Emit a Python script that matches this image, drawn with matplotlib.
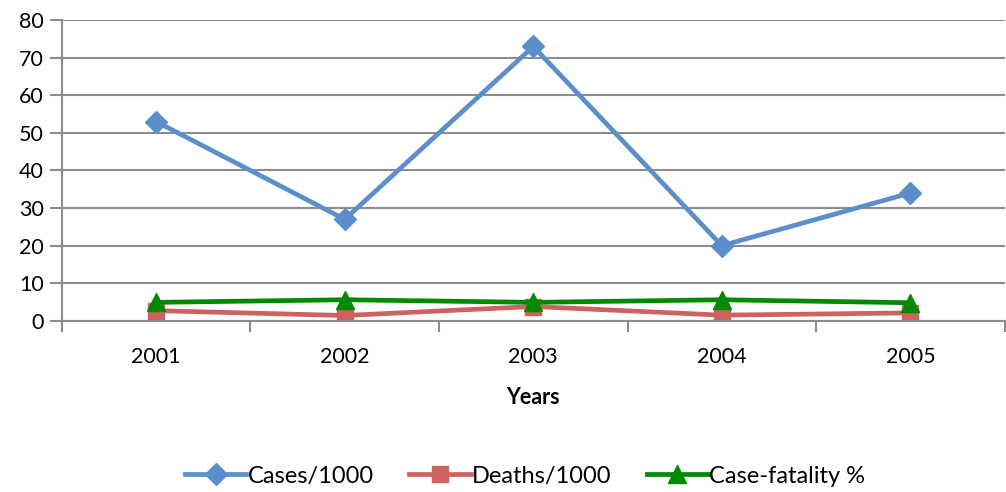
import matplotlib
matplotlib.use("Agg")
import matplotlib.pyplot as plt

years = ["2001", "2002", "2003", "2004", "2005"]
cases = [53, 27, 73, 20, 34]
deaths = [2.7, 1.4, 3.8, 1.5, 2.1]
case_fatality = [4.9, 5.6, 4.9, 5.6, 4.8]

plt.rcParams['font.family'] = ['Lato', 'DejaVu Sans']

fig = plt.figure(figsize=(10.06, 4.92), dpi=100)
ax = fig.add_axes([0.0616, 0.348, 0.937, 0.611])

x = range(len(years))
ax.plot(x, cases, color="#5B8FCB", lw=3.4, marker="D", ms=11, label="Cases/1000")
ax.plot(x, deaths, color="#CC6360", lw=3.4, marker="s", ms=12, label="Deaths/1000")
ax.plot(x, case_fatality, color="#008A00", lw=3.4, marker="^", ms=13, label="Case-fatality %")

ax.set_ylim(0, 80)
ax.set_yticks(range(0, 81, 10))
ax.set_xlim(-0.5, len(years) - 0.5)
ax.set_xticks(list(x))
ax.set_xticklabels(years)
ax.set_xticks([i + 0.5 for i in range(-1, len(years))], minor=True)
ax.tick_params(axis="x", which="major", length=0, pad=19, labelsize=15.5)
ax.tick_params(axis="x", which="minor", length=8, width=1.5, color="#8C8C8C", direction="out")
ax.tick_params(axis="y", length=9, width=1.5, color="#8C8C8C", labelsize=15.5, pad=4)

ax.grid(axis="y", color="#8C8C8C", lw=1.5)
ax.set_axisbelow(True)
for s in ["top", "right"]:
    ax.spines[s].set_visible(False)
for s in ["left", "bottom"]:
    ax.spines[s].set_color("#8C8C8C")
    ax.spines[s].set_linewidth(1.5)

ax.set_xlabel("Years", fontsize=15.5, fontweight="bold", labelpad=14)

fig.legend(loc="center", bbox_to_anchor=(0.522, 0.032), ncol=3, frameon=False,
           fontsize=17, handlelength=2.6, handletextpad=0.05, columnspacing=1.5)

fig.savefig("out.png", dpi=100)
